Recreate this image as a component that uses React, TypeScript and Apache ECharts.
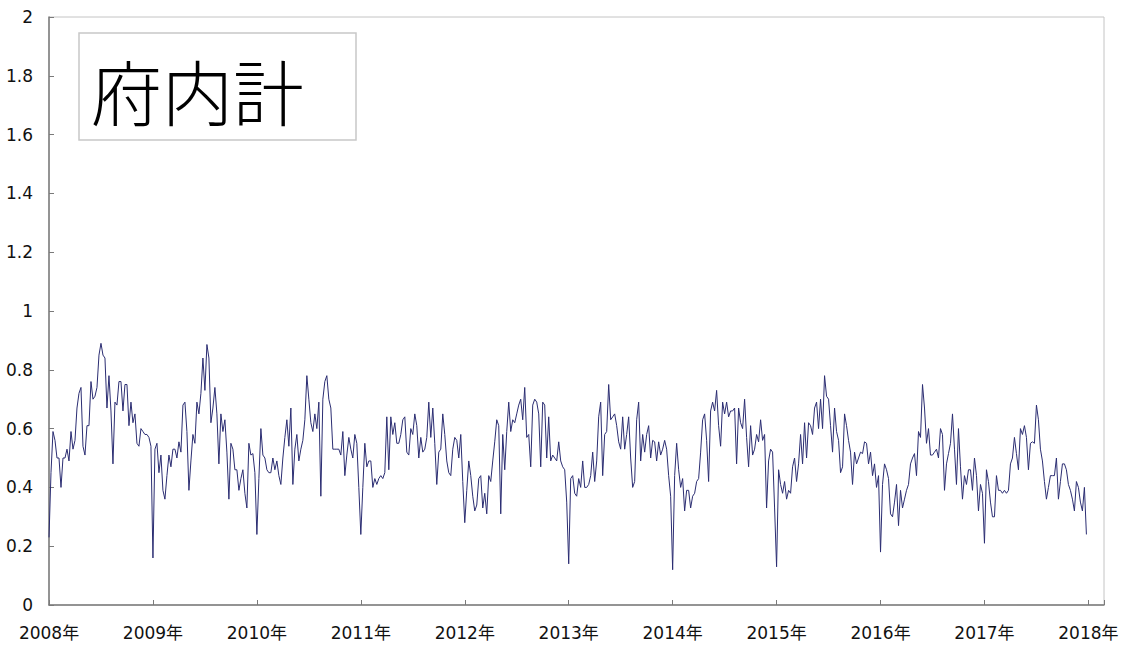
import React, { useEffect, useRef } from "react";
import * as echarts from "echarts";

const title = "府内計";
const startYear = 2008;
const weeksPerYear = 52;

const y2008 = [0.23,0.45,0.59,0.56,0.50,0.50,0.40,0.50,0.50,0.53,0.49,0.59,0.53,0.56,0.67,0.72,0.74,0.54,0.51,0.61,0.61,0.76,0.70,0.71,0.74,0.85,0.89,0.85,0.84,0.67,0.78,0.66,0.48,0.69,0.68,0.76,0.76,0.66,0.75,0.75,0.61,0.69,0.62,0.65,0.55,0.54,0.60,0.59,0.58,0.58,0.57,0.54];
const y2009 = [0.16,0.53,0.55,0.45,0.51,0.39,0.36,0.44,0.51,0.47,0.53,0.53,0.50,0.555,0.52,0.68,0.69,0.59,0.39,0.49,0.58,0.55,0.69,0.65,0.72,0.84,0.73,0.886,0.84,0.62,0.67,0.74,0.65,0.48,0.65,0.59,0.63,0.52,0.36,0.55,0.53,0.46,0.46,0.39,0.43,0.46,0.38,0.33,0.55,0.51,0.515,0.45];
const y2010 = [0.24,0.43,0.60,0.51,0.50,0.46,0.45,0.45,0.50,0.46,0.49,0.44,0.41,0.50,0.57,0.63,0.54,0.67,0.41,0.53,0.58,0.49,0.53,0.56,0.63,0.78,0.70,0.62,0.59,0.65,0.60,0.69,0.37,0.70,0.76,0.78,0.70,0.67,0.53,0.53,0.53,0.53,0.51,0.59,0.44,0.51,0.57,0.53,0.50,0.58,0.55,0.40];
const y2011 = [0.24,0.40,0.55,0.47,0.49,0.49,0.40,0.43,0.41,0.43,0.44,0.43,0.45,0.64,0.46,0.64,0.58,0.62,0.55,0.55,0.58,0.63,0.64,0.52,0.51,0.60,0.58,0.65,0.61,0.50,0.57,0.52,0.53,0.57,0.69,0.57,0.67,0.55,0.41,0.52,0.53,0.65,0.58,0.49,0.45,0.44,0.53,0.57,0.56,0.50,0.58,0.42];
const y2012 = [0.28,0.39,0.49,0.44,0.37,0.32,0.34,0.43,0.44,0.33,0.38,0.31,0.44,0.42,0.49,0.555,0.63,0.61,0.31,0.58,0.46,0.59,0.69,0.59,0.63,0.62,0.65,0.68,0.70,0.63,0.74,0.57,0.58,0.47,0.68,0.70,0.69,0.65,0.47,0.69,0.68,0.50,0.64,0.49,0.51,0.50,0.49,0.555,0.49,0.47,0.46,0.35];
const y2013 = [0.14,0.43,0.44,0.38,0.37,0.43,0.40,0.49,0.40,0.40,0.41,0.44,0.52,0.42,0.49,0.64,0.69,0.44,0.58,0.59,0.75,0.63,0.64,0.65,0.61,0.555,0.53,0.64,0.53,0.58,0.64,0.50,0.40,0.42,0.63,0.69,0.49,0.58,0.52,0.58,0.61,0.50,0.56,0.555,0.49,0.555,0.51,0.53,0.56,0.53,0.44,0.37];
const y2014 = [0.12,0.44,0.55,0.46,0.40,0.43,0.32,0.39,0.39,0.33,0.37,0.38,0.42,0.43,0.52,0.63,0.65,0.56,0.42,0.66,0.69,0.66,0.73,0.61,0.54,0.69,0.65,0.69,0.64,0.66,0.66,0.67,0.48,0.67,0.62,0.60,0.70,0.57,0.47,0.61,0.51,0.53,0.58,0.555,0.63,0.56,0.58,0.33,0.49,0.53,0.52,0.33];
const y2015 = [0.13,0.46,0.41,0.38,0.42,0.36,0.39,0.38,0.47,0.50,0.42,0.48,0.58,0.48,0.62,0.50,0.62,0.61,0.58,0.67,0.69,0.60,0.70,0.60,0.78,0.71,0.70,0.61,0.52,0.67,0.59,0.56,0.45,0.47,0.65,0.61,0.56,0.52,0.41,0.52,0.48,0.50,0.52,0.515,0.555,0.55,0.48,0.52,0.44,0.48,0.40,0.44];
const y2016 = [0.18,0.41,0.48,0.46,0.43,0.31,0.30,0.35,0.41,0.27,0.39,0.33,0.36,0.39,0.41,0.48,0.50,0.515,0.44,0.59,0.57,0.75,0.67,0.55,0.60,0.51,0.51,0.52,0.53,0.50,0.60,0.58,0.39,0.48,0.515,0.55,0.65,0.53,0.41,0.60,0.47,0.36,0.44,0.41,0.46,0.46,0.39,0.50,0.44,0.32,0.41,0.38];
const y2017 = [0.21,0.46,0.42,0.35,0.30,0.30,0.44,0.39,0.39,0.38,0.39,0.38,0.39,0.48,0.50,0.57,0.515,0.46,0.60,0.58,0.61,0.57,0.46,0.55,0.555,0.55,0.68,0.63,0.53,0.49,0.42,0.36,0.40,0.44,0.44,0.44,0.50,0.36,0.42,0.48,0.48,0.46,0.41,0.39,0.36,0.32,0.42,0.40,0.35,0.32,0.40,0.24];

const years = [y2008, y2009, y2010, y2011, y2012, y2013, y2014, y2015, y2016, y2017];

const FONT = "'DejaVu Sans', 'Noto Sans CJK JP', sans-serif";

export default function App() {
  const ref = useRef<HTMLDivElement>(null);

  useEffect(() => {
    document.body.style.margin = "0";
    if (!ref.current) return;
    const chart = echarts.init(ref.current, null, { renderer: "svg" });
    const values = years.flat();
    const data = values.map((v, i) => [i / weeksPerYear, v]);

    chart.setOption({
      animation: false,
      backgroundColor: "#ffffff",
      grid: {
        left: 49,
        top: 17,
        right: 25,
        bottom: 41,
        show: true,
        borderColor: "#c4c4c4",
        borderWidth: 1,
        backgroundColor: "transparent",
      },
      xAxis: {
        type: "value",
        min: 0,
        max: 10.15,
        interval: 1,
        axisLine: { show: true, onZero: false, lineStyle: { color: "#7a7a7a", width: 1.5 } },
        axisTick: { show: true, inside: true, length: 5, lineStyle: { color: "#7a7a7a" } },
        splitLine: { show: false },
        axisLabel: {
          margin: 19,
          fontSize: 17,
          fontFamily: FONT,
          color: "#111111",
          showMaxLabel: true,
          formatter: (v: number) =>
            Math.abs(v - Math.round(v)) < 1e-6 ? `${startYear + Math.round(v)}年` : "",
        },
      },
      yAxis: {
        type: "value",
        min: 0,
        max: 2,
        interval: 0.2,
        axisLine: { show: true, lineStyle: { color: "#7a7a7a", width: 1.5 } },
        axisTick: { show: true, inside: true, length: 5, lineStyle: { color: "#7a7a7a" } },
        splitLine: { show: false },
        axisLabel: {
          margin: 16,
          fontSize: 17,
          fontFamily: FONT,
          color: "#111111",
          formatter: (v: number) => String(Math.round(v * 10) / 10),
        },
      },
      series: [
        {
          type: "line",
          data,
          showSymbol: false,
          symbol: "none",
          lineStyle: { color: "#2b2d72", width: 1 },
          silent: true,
        },
      ],
      graphic: [
        {
          type: "rect",
          shape: { x: 79, y: 33, width: 277, height: 107 },
          style: { fill: "#ffffff", stroke: "#c8c8c8", lineWidth: 1.5 },
          z: 10,
        },
        {
          type: "text",
          x: 91,
          y: 89,
          style: {
            text: title,
            fontSize: 71,
            fontFamily: "'Noto Sans CJK JP', sans-serif",
            fontWeight: 300,
            fill: "#000000",
            verticalAlign: "middle",
            align: "left",
          },
          z: 11,
        },
      ],
    });

    return () => chart.dispose();
  }, []);

  return (
    <div
      ref={ref}
      style={{ position: "absolute", left: 0, top: 0, width: 1129, height: 646 }}
    />
  );
}
